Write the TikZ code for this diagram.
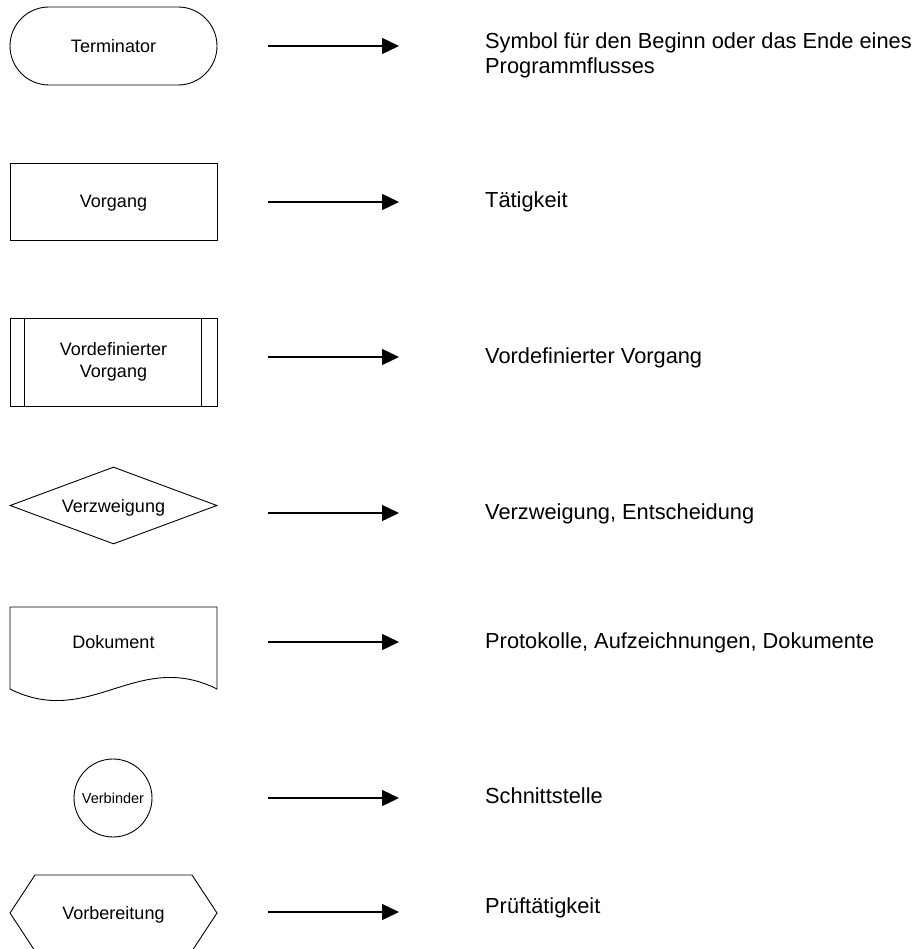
\documentclass[tikz,border=0pt]{standalone}
\usepackage{fontspec}
\setmainfont{Liberation Sans}
\usetikzlibrary{arrows.meta,positioning,shapes.geometric}

\begin{document}
\begin{tikzpicture}[x=1pt,y=-1pt,
  >={Triangle[length=17pt,width=16pt]},
  symb/.style={draw,line width=0.9pt,inner sep=0pt,align=center,
    minimum width=207pt,font=\fontsize{18}{21.6}\selectfont},
  oneline/.style={text height=13pt,text depth=0pt},
  outline/.style={draw,line width=0.9pt},
  desc/.style={inner sep=0pt,align=left,font=\fontsize{21.8}{25}\selectfont},
  flow/.style={->,line width=1.4pt}]
\useasboundingbox (0,0) rectangle (915,949);
% symbols on the left
\node[symb,oneline,rounded corners=39pt,minimum height=78pt] (term) at (113.5,46) {Terminator};
\node[symb,oneline,minimum height=77pt] (proc) at (113.5,201.5) {Vorgang};
\node[symb,minimum height=88pt] (pred) at (113.5,362) {Vordefinierter\\Vorgang};
\draw[outline] ([xshift=15pt]pred.north west) -- ([xshift=15pt]pred.south west);
\draw[outline] ([xshift=-16pt]pred.north east) -- ([xshift=-16pt]pred.south east);
\node[symb,oneline,diamond,aspect=2.7,minimum height=77pt] (dec) at (113.5,505.5) {Verzweigung};
\draw[outline] (10,689) -- (10,607) -- (217,607) -- (217,689)
  .. controls (137,649) and (90,729) .. (10,689);
\node[symb,oneline,draw=none] (docu) at (113.5,641.5) {Dokument};
\node[symb,oneline,circle,minimum size=78pt,font=\fontsize{14.5}{17}\selectfont,
  text height=10.4pt] (conn) at (113,798) {Verbinder};
\draw[outline] (10,913) -- (35,875) -- (192,875) -- (217,913) -- (192,951) -- (35,951) -- cycle;
\node[symb,oneline,draw=none] (prep) at (113.5,913) {Vorbereitung};
% descriptions on the right
\node[desc,anchor=west] (dterm) at (485,55) {Symbol für den Beginn oder das Ende eines\\Programmflusses};
\node[desc,anchor=base west] (dproc) at (485,208) {Tätigkeit};
\node[desc,anchor=base west] (dpred) at (485,363) {Vordefinierter Vorgang};
\node[desc,anchor=base west] (ddec) at (485,519) {Verzweigung, Entscheidung};
\node[desc,anchor=base west] (ddocu) at (485,648) {Protokolle, Aufzeichnungen, Dokumente};
\node[desc,anchor=base west] (dconn) at (485,803) {Schnittstelle};
\node[desc,anchor=base west] (dprep) at (485,913) {Prüftätigkeit};
% arrows
\coordinate (a1) at (268,46);  \coordinate (b1) at (399,46);
\coordinate (a2) at (268,202); \coordinate (b2) at (399,202);
\coordinate (a3) at (268,357); \coordinate (b3) at (399,357);
\coordinate (a4) at (268,513); \coordinate (b4) at (399,513);
\coordinate (a5) at (268,642); \coordinate (b5) at (399,642);
\coordinate (a6) at (268,798); \coordinate (b6) at (399,798);
\coordinate (a7) at (268,912); \coordinate (b7) at (399,912);
\draw[flow] (a1) -- (b1);
\draw[flow] (a2) -- (b2);
\draw[flow] (a3) -- (b3);
\draw[flow] (a4) -- (b4);
\draw[flow] (a5) -- (b5);
\draw[flow] (a6) -- (b6);
\draw[flow] (a7) -- (b7);
\end{tikzpicture}
\end{document}
